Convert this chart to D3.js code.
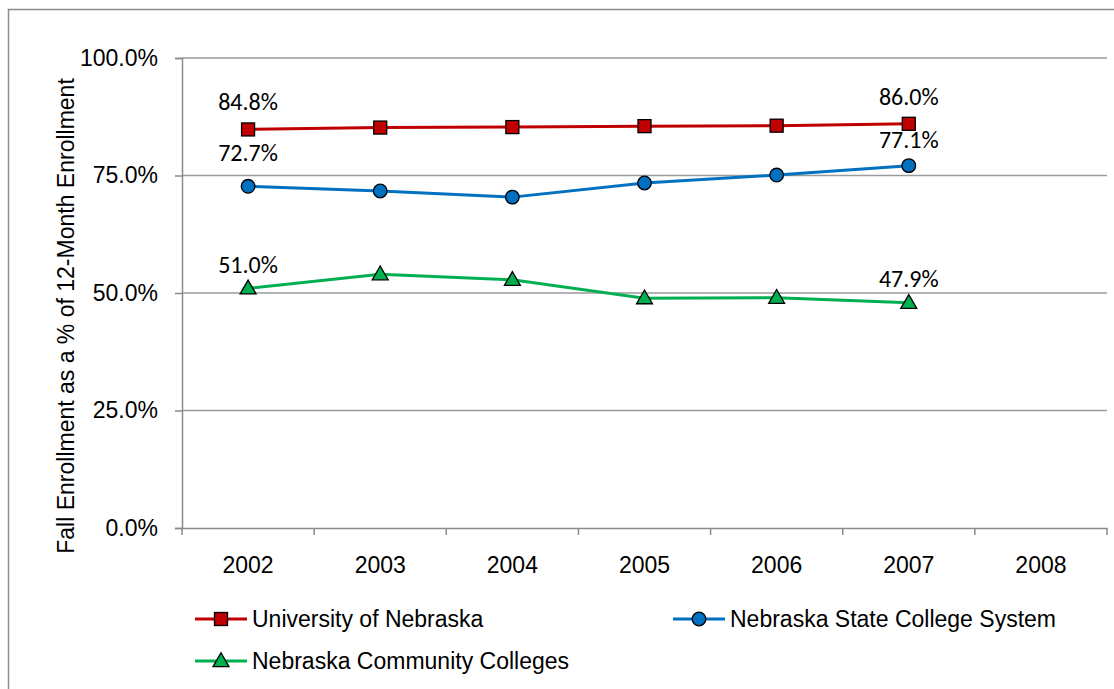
<!DOCTYPE html>
<html>
<head>
<meta charset="utf-8">
<script src="https://cdn.jsdelivr.net/npm/d3@7"></script>
<style>
  body { margin: 0; background: #fff; }
  svg { display: block; }
</style>
</head>
<body>
<div id="chart"></div>
<script>
const years = ["2002", "2003", "2004", "2005", "2006", "2007", "2008"];
const yTicks = [0, 25, 50, 75, 100];
const unl = [84.8, 85.2, 85.3, 85.5, 85.6, 86.0];
const nscs = [72.7, 71.7, 70.4, 73.4, 75.1, 77.1];
const ncc = [51.0, 54.0, 52.8, 48.9, 49.0, 47.9];
const seriesNames = ["University of Nebraska", "Nebraska State College System", "Nebraska Community Colleges"];

// label offsets (first, last) above the point
const series = [
    { name: seriesNames[0], values: unl, color: "#C00000", marker: "square", off: [-19, -19] },
    { name: seriesNames[1], values: nscs, color: "#0070C0", marker: "circle", off: [-25, -18] },
    { name: seriesNames[2], values: ncc, color: "#00B050", marker: "triangle", off: [-15, -16] }
];

const W = 1114, H = 689;
const svg = d3.select("#chart").append("svg")
    .attr("width", W)
    .attr("height", H);

const font = "'Liberation Sans', Arial, sans-serif";

// outer frame
svg.append("rect")
    .attr("x", 8.5).attr("y", 9.5)
    .attr("width", 1120).attr("height", 700)
    .attr("fill", "none")
    .attr("stroke", "#8c8c8c")
    .attr("stroke-width", 1.5);

const plotLeft = 182, plotRight = 1107, plotTop = 58, plotBottom = 528;

const x = d3.scaleBand().domain(years).range([plotLeft, plotRight]);
const y = d3.scaleLinear().domain([0, 100]).range([plotBottom, plotTop]);

const axisColor = "#8a8a8a";

// gridlines
svg.append("g")
    .selectAll("line")
    .data(yTicks.filter(d => d > 0))
    .join("line")
    .attr("x1", plotLeft).attr("x2", plotRight)
    .attr("y1", d => y(d)).attr("y2", d => y(d))
    .attr("stroke", "#9a9a9a")
    .attr("stroke-width", 1.3);

// y axis
const yAxis = svg.append("g")
    .attr("transform", `translate(${plotLeft},0)`)
    .call(d3.axisLeft(y).tickValues(yTicks).tickSize(7).tickFormat(d => d.toFixed(1) + "%"));
yAxis.select(".domain").attr("stroke", axisColor).attr("stroke-width", 1.5);
yAxis.selectAll(".tick line").attr("stroke", axisColor).attr("stroke-width", 1.5);
yAxis.selectAll(".tick text")
    .attr("x", -24)
    .attr("font-family", font)
    .attr("font-size", 23)
    .attr("fill", "#000");

// x axis
const xAxis = svg.append("g")
    .attr("transform", `translate(0,${plotBottom})`)
    .call(d3.axisBottom(x).tickSize(0).tickPadding(29));
xAxis.select(".domain").attr("stroke", axisColor).attr("stroke-width", 1.5);
xAxis.selectAll(".tick text")
    .attr("font-family", font)
    .attr("font-size", 23)
    .attr("fill", "#000");

// category separators
svg.append("g")
    .selectAll("line")
    .data(years.map(d => x(d)).concat([plotRight]))
    .join("line")
    .attr("x1", d => d).attr("x2", d => d)
    .attr("y1", plotBottom).attr("y2", plotBottom + 7)
    .attr("stroke", axisColor)
    .attr("stroke-width", 1.5);

// y title
svg.append("text")
    .attr("transform", `translate(74,${(plotTop + plotBottom) / 2 + 23}) rotate(-90)`)
    .attr("text-anchor", "middle")
    .attr("font-family", font)
    .attr("font-size", 23)
    .text("Fall Enrollment as a % of 12-Month Enrollment");

const cx = i => x(years[i]) + x.bandwidth() / 2;

function drawMarker(g, type, px, py, color) {
    if (type === "square") {
        g.append("rect")
            .attr("x", px - 6.5).attr("y", py - 6.5)
            .attr("width", 13).attr("height", 13)
            .attr("fill", color).attr("stroke", "#000").attr("stroke-width", 1.3);
    } else if (type === "circle") {
        g.append("circle")
            .attr("cx", px).attr("cy", py).attr("r", 6.8)
            .attr("fill", color).attr("stroke", "#000").attr("stroke-width", 1.3);
    } else {
        g.append("path")
            .attr("d", d3.symbol(d3.symbolTriangle, 110)())
            .attr("transform", `translate(${px},${py + 1})`)
            .attr("fill", color).attr("stroke", "#000").attr("stroke-width", 1.3);
    }
}

const line = d3.line()
    .x((d, i) => cx(i))
    .y(d => y(d));

series.forEach(s => {
    svg.append("path")
        .datum(s.values)
        .attr("fill", "none")
        .attr("stroke", s.color)
        .attr("stroke-width", 3)
        .attr("d", line);
    const g = svg.append("g");
    s.values.forEach((v, i) => drawMarker(g, s.marker, cx(i), y(v), s.color));

    // labels at first and last point
    [0, s.values.length - 1].forEach((i, k) => {
        svg.append("text")
            .attr("x", cx(i))
            .attr("y", y(s.values[i]) + s.off[k])
            .attr("text-anchor", "middle")
            .attr("font-family", "Carlito, Lato, 'Open Sans', sans-serif")
            .attr("font-size", 24)
            .attr("fill", "#000")
            .text(s.values[i].toFixed(1) + "%");
    });
});

// legend
const legendPos = [[195, 619], [673, 619], [195, 661]];
series.forEach((s, i) => {
    const [lx, ly] = legendPos[i];
    const g = svg.append("g");
    g.append("line")
        .attr("x1", lx).attr("x2", lx + 52)
        .attr("y1", ly).attr("y2", ly)
        .attr("stroke", s.color).attr("stroke-width", 3);
    drawMarker(g, s.marker, lx + 26, ly, s.color);
    g.append("text")
        .attr("x", lx + 57)
        .attr("y", ly + 8)
        .attr("font-family", font)
        .attr("font-size", 23)
        .attr("fill", "#000")
        .text(s.name);
});
</script>
</body>
</html>
